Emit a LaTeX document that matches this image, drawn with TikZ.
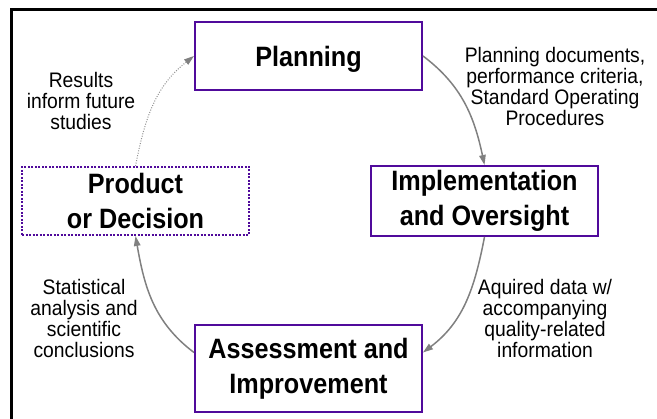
\documentclass[tikz,border=0pt]{standalone}
\usepackage{fontspec}
\setmainfont{Liberation Sans}[FakeStretch=0.9]
\newfontfamily\notefont{Liberation Sans}[FakeStretch=0.92]
\usetikzlibrary{arrows.meta}
\definecolor{boxpurple}{RGB}{80,10,155}
\definecolor{arrowgray}{RGB}{128,128,128}
\begin{document}
\begin{tikzpicture}[x=1pt,y=1pt,
  box/.style={draw=boxpurple, line width=2pt, minimum width=227pt, align=center,
    font=\fontsize{28}{35}\selectfont\bfseries, inner sep=0pt},
  note/.style={align=center, font=\notefont\fontsize{21}{21}\selectfont, inner sep=0pt},
  flow/.style={draw=arrowgray, line width=1.5pt, -{Triangle[length=10pt,width=6.5pt]}},
  futureflow/.style={draw=arrowgray!85, line width=1pt, dash pattern=on 1pt off 1.5pt,
    -{Triangle[length=10pt,width=6.5pt,color=arrowgray]}},
]
\useasboundingbox (0,0) rectangle (657,419);
\draw[line width=3pt] (11.5,0) -- (11.5,409.5) -- (657,409.5);

\node[box, minimum height=68pt, text depth=0pt] (plan) at (308.5,363) {Planning};
\node[box, minimum height=70pt] (impl) at (484.5,218) {Implementation\\and Oversight};
\node[box, minimum height=68pt, dash pattern=on 2pt off 1.5pt] (prod) at (135.5,218) {Product\\or Decision};
\node[box, minimum height=87pt] (assess) at (308.5,50.5) {Assessment and\\Improvement};

\node[note] (tres) at (81,318) {Results\\inform future\\studies};
\node[note] (tplan) at (555,332.5) {Planning documents,\\performance criteria,\\Standard Operating\\Procedures};
\node[note] (tstat) at (84,100.5) {Statistical\\analysis and\\scientific\\conclusions};
\node[note] (tdata) at (545,100.5) {Aquired data w/\\accompanying\\quality-related\\information};

\draw[flow] (plan.east) to[out=-37, in=102] (impl.north);
\draw[flow] (impl.south) to[out=-101, in=37] ([yshift=16pt]assess.east);
\draw[flow] ([yshift=16pt]assess.west) to[out=143, in=-80] (prod.south);
\draw[futureflow] (prod.north) to[out=79, in=-142] (plan.west);
\end{tikzpicture}
\end{document}
